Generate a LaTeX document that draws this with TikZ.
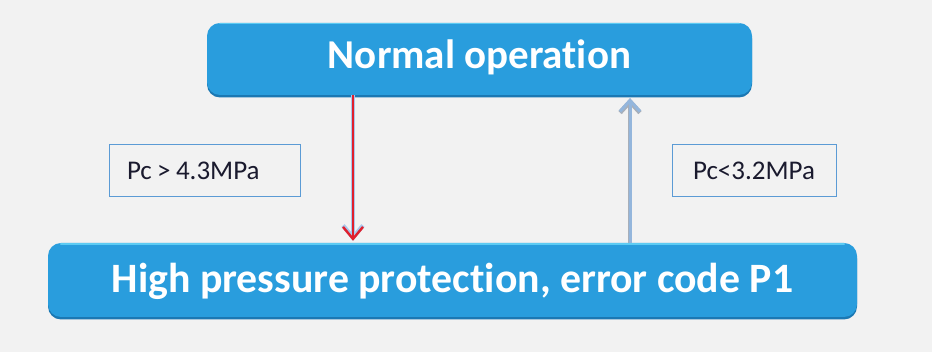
\documentclass[tikz,border=0pt]{standalone}
\usepackage{fontspec}
\setmainfont{Carlito}[Ligatures={NoCommon}]
\usetikzlibrary{arrows.meta,calc}

\definecolor{pagebg}{HTML}{F2F2F2}
\definecolor{boxfill}{HTML}{299DDD}
\definecolor{boxtop}{HTML}{5CCBF3}
\definecolor{boxshade}{HTML}{1B78B3}
\definecolor{condedge}{HTML}{5B9BD5}
\definecolor{condtext}{HTML}{1A1A2E}
\definecolor{downred}{HTML}{E0202E}
\definecolor{downglow}{HTML}{A9C8EC}
\definecolor{upblue}{HTML}{94B6DC}
\definecolor{upedge}{HTML}{A7AFBA}

\tikzset{
  statebox/.style={rounded corners=13pt, fill=boxfill, text=white,
    font=\bfseries\fontsize{41}{46}\selectfont, inner sep=0pt,
    text height=26pt, text depth=0pt,
    preaction={fill=boxshade, transform canvas={yshift=-2.5pt}}},
  condbox/.style={draw=condedge, line width=1pt, fill=pagebg, text=condtext,
    font=\fontsize{27}{32}\selectfont, inner ysep=0pt, minimum height=52pt,
    text height=17.4pt, text depth=0pt},
  downarrow/.style={draw=downred, line width=2.4pt,
    -{Straight Barb[length=12pt,width=20pt,line width=2.4pt]}},
  downhalo/.style={draw=downglow, line width=4.2pt,
    -{Straight Barb[length=12pt,width=20pt,line width=4.2pt]}},
  uparrow/.style={draw=upblue, line width=3pt,
    -{Straight Barb[length=11pt,width=20pt,line width=3pt]}},
  uphalo/.style={draw=upedge, line width=4.6pt,
    -{Straight Barb[length=11pt,width=20pt,line width=4.6pt]}},
}

\begin{document}
\begin{tikzpicture}[x=1pt,y=1pt]
  % page
  \fill[pagebg] (0,0) rectangle (937,352);
  \fill[white] (932,0) rectangle (937,352);
  \useasboundingbox (0,0) rectangle (937,352);

  % state boxes
  \node[statebox, text depth=6pt, minimum width=545pt, minimum height=72pt]
    (normal) at (479.5,293) {Normal operation};
  \node[statebox, font=\bfseries\fontsize{41.8}{46}\selectfont,
    minimum width=809pt, minimum height=74pt]
    (protect) at (452.5,72) {High pressure protection, error code P1};

  % light upper rim of the boxes
  \draw[boxtop, line width=1.6pt, line cap=round]
    ($(normal.north west)+(13,-0.8)$) -- ($(normal.north east)+(-13,-0.8)$);
  \draw[boxtop, line width=2pt, line cap=round]
    ($(protect.north west)+(13,-1)$) -- ($(protect.north east)+(-13,-1)$);

  % transition conditions
  \node[condbox, text width=155pt, inner xsep=18pt, align=left] (condhigh) at (204.5,181)
    {Pc\hspace{0.2em}>\hspace{0.2em}4.3MPa};
  \node[condbox, minimum width=164pt] (condlow) at (754,181.5)
    {Pc<3.2MPa};

  % transitions
  \coordinate (downx) at (353,0);
  \coordinate (upx) at (630,0);
  \draw[downhalo] (normal.south -| downx) -- ($(protect.north -| downx)+(0,2)$);
  \draw[downarrow] (normal.south -| downx) -- ($(protect.north -| downx)+(0,2)$);
  \draw[uphalo] (protect.north -| upx) -- ($(normal.south -| upx)+(0,-3)$);
  \draw[uparrow] (protect.north -| upx) -- ($(normal.south -| upx)+(0,-3)$);
\end{tikzpicture}
\end{document}
